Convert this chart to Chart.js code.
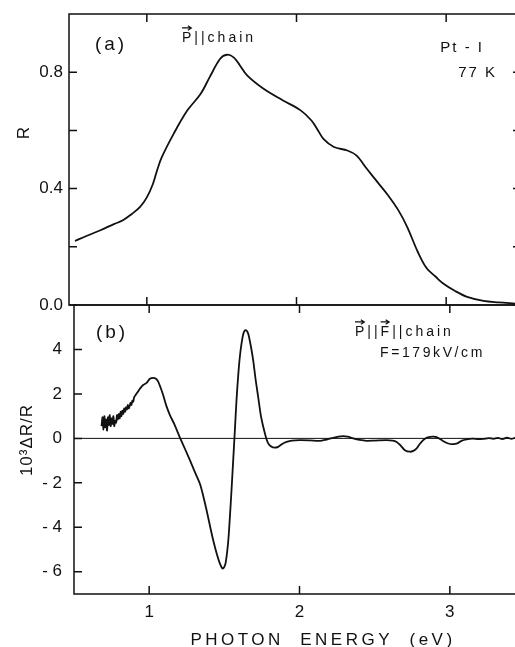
<!DOCTYPE html>
<html>
<head>
<meta charset="utf-8">
<script src="https://cdn.jsdelivr.net/npm/chart.js@4"></script>
<style>
  html, body { margin: 0; padding: 0; background: #fff; overflow: hidden; }
  #page { position: relative; width: 515px; height: 647px; overflow: hidden; }
  .panel { position: absolute; left: 0; }
  #panelA { top: 0; width: 521px; height: 320px; }
  #panelB { top: 290px; width: 525px; height: 357px; }
</style>
</head>
<body>
<div id="page">
  <div class="panel" id="panelA"><canvas id="reflChart"></canvas></div>
  <div class="panel" id="panelB"><canvas id="erChart"></canvas></div>
</div>
<script>
const INK = '#111';
const FONT = '"Liberation Sans", Arial, sans-serif';

// (a) reflectance spectrum
const energyA = [0.52, 0.60, 0.69, 0.78, 0.84, 0.90, 0.955, 1.00, 1.04, 1.07, 1.10, 1.18, 1.27,
  1.36, 1.42, 1.49, 1.535, 1.58, 1.62, 1.67, 1.78, 1.91, 2.03, 2.10, 2.14, 2.18, 2.25, 2.34,
  2.40, 2.47, 2.54, 2.61, 2.68, 2.74, 2.81, 2.87, 2.93, 2.98, 3.06, 3.14, 3.25, 3.35, 3.46];
const reflectance = [0.220, 0.238, 0.257, 0.278, 0.291, 0.313, 0.337, 0.370, 0.415, 0.465, 0.508, 0.589, 0.668,
  0.726, 0.783, 0.846, 0.860, 0.851, 0.825, 0.789, 0.743, 0.703, 0.668, 0.634, 0.603, 0.571, 0.543, 0.531,
  0.514, 0.468, 0.423, 0.378, 0.326, 0.268, 0.183, 0.126, 0.097, 0.074, 0.048, 0.028, 0.014, 0.009, 0.005];

// (b) electroreflectance spectrum, 10^3 dR/R
const energyB = [0.683, 0.690, 0.696, 0.702, 0.708, 0.714, 0.720, 0.726, 0.732, 0.738, 0.744, 0.750,
  0.756, 0.762, 0.768, 0.774, 0.780, 0.786, 0.792, 0.798, 0.804, 0.810, 0.816, 0.822, 0.828, 0.834,
  0.840, 0.846, 0.852, 0.858, 0.864, 0.870, 0.876, 0.882, 0.888, 0.894, 0.900, 0.910, 0.925, 0.940,
  0.960, 0.983, 1.005, 1.027, 1.045, 1.060, 1.075, 1.093, 1.115, 1.138, 1.170, 1.204, 1.240, 1.271,
  1.300, 1.337, 1.360, 1.382, 1.405, 1.426, 1.450, 1.470, 1.488, 1.500, 1.510, 1.525, 1.537, 1.548,
  1.559, 1.570, 1.581, 1.592, 1.603, 1.615, 1.626, 1.637, 1.648, 1.659, 1.675, 1.692, 1.708, 1.725,
  1.745, 1.770, 1.790, 1.814, 1.835, 1.858, 1.885, 1.914, 1.950, 2.003, 2.070, 2.136, 2.180, 2.225,
  2.260, 2.290, 2.320, 2.357, 2.400, 2.446, 2.500, 2.579, 2.620, 2.646, 2.670, 2.701, 2.735, 2.760,
  2.779, 2.800, 2.823, 2.845, 2.868, 2.890, 2.912, 2.940, 2.967, 2.990, 3.012, 3.035, 3.056, 3.080,
  3.112, 3.150, 3.190, 3.222, 3.260, 3.290, 3.320, 3.350, 3.380, 3.410, 3.440, 3.470, 3.500];
const deltaR = [0.55, 0.95, 0.40, 1.00, 0.50, 0.85, 0.35, 0.95, 0.60, 1.05, 0.55, 0.90,
  0.65, 1.00, 0.55, 0.80, 0.70, 1.05, 0.85, 1.10, 0.90, 1.20, 1.00, 1.25, 1.10, 1.35,
  1.20, 1.40, 1.30, 1.50, 1.35, 1.45, 1.60, 1.50, 1.70, 1.65, 1.85, 1.95, 2.10, 2.25,
  2.40, 2.50, 2.68, 2.72, 2.68, 2.55, 2.30, 1.95, 1.45, 1.05, 0.60, 0.05, -0.50, -0.98,
  -1.45, -2.03, -2.60, -3.23, -3.95, -4.58, -5.20, -5.62, -5.85, -5.78, -5.55, -4.70, -3.53, -2.30,
  -0.98, 0.35, 1.72, 2.80, 3.66, 4.30, 4.70, 4.86, 4.85, 4.71, 4.20, 3.51, 2.65, 1.87,
  0.95, 0.22, -0.20, -0.38, -0.42, -0.38, -0.25, -0.16, -0.10, -0.08, -0.09, -0.11, -0.05, 0.02,
  0.08, 0.10, 0.08, 0.00, -0.07, -0.11, -0.10, -0.08, -0.10, -0.16, -0.30, -0.53, -0.60, -0.55,
  -0.45, -0.25, -0.08, 0.03, 0.07, 0.08, 0.06, -0.05, -0.16, -0.23, -0.26, -0.25, -0.20, -0.10,
  -0.04, -0.01, -0.03, -0.02, 0.01, -0.02, 0.02, -0.03, 0.03, -0.02, 0.03, -0.01, 0.02];

const E_TICKS = [1, 2, 3];
const R_TICKS = [0, 0.2, 0.4, 0.6, 0.8];
const R_LABELS = [0, 0.4, 0.8];
const D_TICKS = [-6, -4, -2, 0, 2, 4];

function toPoints(xs, ys) {
  return xs.map((x, i) => ({ x, y: ys[i] }));
}

// fixed axis box, no extra room for overhanging labels
function fixBox(size) {
  return (s) => {
    if (s.isHorizontal()) s.height = size; else s.width = size;
    s.paddingTop = s.paddingBottom = s.paddingLeft = s.paddingRight = 0;
  };
}

function drawArrow(ctx, x0, x1, y) {
  ctx.beginPath();
  ctx.lineWidth = 1.2;
  ctx.moveTo(x0, y);
  ctx.lineTo(x1, y);
  ctx.moveTo(x1 - 3.5, y - 2.2);
  ctx.lineTo(x1, y);
  ctx.lineTo(x1 - 3.5, y + 2.2);
  ctx.stroke();
}

// box around the plot area with short inward tick marks
const frame = {
  id: 'frame',
  afterDatasetsDraw(chart, args, opts) {
    const { ctx, chartArea: a, scales: { x, y } } = chart;
    const len = opts.len || 8;
    ctx.save();
    ctx.strokeStyle = INK;
    ctx.lineWidth = 1.5;
    ctx.strokeRect(a.left, a.top, a.right - a.left, a.bottom - a.top);
    ctx.beginPath();
    for (const v of opts.xTicks) {
      const px = x.getPixelForValue(v);
      ctx.moveTo(px, a.top);
      ctx.lineTo(px, a.top + len);
      ctx.moveTo(px, a.bottom);
      ctx.lineTo(px, a.bottom - len);
    }
    for (const v of opts.yTicks) {
      const py = y.getPixelForValue(v);
      ctx.moveTo(a.left, py);
      ctx.lineTo(a.left + len, py);
      ctx.moveTo(a.right, py);
      ctx.lineTo(a.right - len, py);
    }
    ctx.stroke();
    if (opts.zeroLine) {
      const py = y.getPixelForValue(0);
      ctx.beginPath();
      ctx.lineWidth = 1;
      ctx.moveTo(a.left, py);
      ctx.lineTo(a.right, py);
      ctx.stroke();
    }
    ctx.restore();
  }
};

// free text: panel letters, sample notes, axis titles
const notes = {
  id: 'notes',
  afterDraw(chart, args, opts) {
    const ctx = chart.ctx;
    for (const n of opts.items || []) {
      ctx.save();
      ctx.font = `${n.size}px ${FONT}`;
      ctx.fillStyle = INK;
      ctx.strokeStyle = INK;
      ctx.textBaseline = 'middle';
      ctx.letterSpacing = (n.spacing || 0) + 'px';
      if (n.rotate) {
        ctx.translate(n.x, n.y);
        ctx.rotate(-Math.PI / 2);
        ctx.textAlign = 'center';
        ctx.fillText(n.text, 0, 0);
      } else {
        const parts = n.parts || [[n.text, false]];
        const total = parts.reduce((w, p) => w + ctx.measureText(p[0]).width, 0);
        let cx = n.align === 'right' ? n.x - total : n.align === 'center' ? n.x - total / 2 : n.x;
        ctx.textAlign = 'left';
        for (const [t, vec] of parts) {
          const w = ctx.measureText(t).width;
          ctx.fillText(t, cx, n.y);
          if (vec) drawArrow(ctx, cx, cx + w - (n.spacing || 0), n.y - n.size * 0.36 - 5);
          cx += w;
        }
      }
      ctx.restore();
    }
  }
};

const tickFont = { family: FONT, size: 17 };
const lineStyle = {
  borderColor: INK,
  borderWidth: 1.8,
  pointRadius: 0,
  tension: 0.35,
  fill: false,
};

new Chart(document.getElementById('reflChart'), {
  type: 'line',
  data: {
    datasets: [{ label: 'R', data: toPoints(energyA, reflectance), ...lineStyle }],
  },
  options: {
    responsive: true,
    maintainAspectRatio: false,
    animation: false,
    layout: { padding: { top: 14, bottom: 15, left: 0, right: 0 } },
    plugins: {
      legend: { display: false },
      tooltip: { enabled: false },
      frame: { xTicks: E_TICKS, yTicks: R_TICKS, len: 8 },
      notes: {
        items: [
          { text: '(a)', x: 111, y: 45, size: 19, spacing: 3, align: 'center' },
          { parts: [['P', true], ['||chain', false]], x: 182, y: 38, size: 14, spacing: 3 },
          { text: 'Pt - I', x: 484, y: 48, size: 15, spacing: 2, align: 'right' },
          { text: '77 K', x: 497, y: 73, size: 15, spacing: 2, align: 'right' },
          { text: 'R', x: 24, y: 133, size: 17, rotate: true },
        ],
      },
    },
    scales: {
      x: { type: 'linear', display: false, min: 0.48, max: 3.5 },
      y: {
        min: 0,
        max: 1.0,
        afterFit: fixBox(69),
        afterBuildTicks: (s) => { s.ticks = R_TICKS.map((v) => ({ value: v })); },
        grid: { display: false, drawTicks: false },
        border: { display: false },
        ticks: {
          padding: 6,
          color: INK,
          font: tickFont,
          callback: (v) => (R_LABELS.includes(v) ? v.toFixed(1) : ''),
        },
      },
    },
  },
  plugins: [frame, notes],
});

new Chart(document.getElementById('erChart'), {
  type: 'line',
  data: {
    datasets: [{ label: '10³ΔR/R', data: toPoints(energyB, deltaR), ...lineStyle, tension: 0.3 }],
  },
  options: {
    responsive: true,
    maintainAspectRatio: false,
    animation: false,
    layout: { padding: { top: 15, bottom: 0, left: 0, right: 0 } },
    plugins: {
      legend: { display: false },
      tooltip: { enabled: false },
      frame: { xTicks: E_TICKS, yTicks: D_TICKS, len: 8, zeroLine: true },
      notes: {
        items: [
          { text: '(b)', x: 112, y: 43, size: 19, spacing: 3, align: 'center' },
          { parts: [['P', true], ['||', false], ['F', true], ['||chain', false]], x: 355, y: 42, size: 14, spacing: 3 },
          { text: 'F=179kV/cm', x: 380, y: 63, size: 14, spacing: 2.6 },
          { text: '10³ΔR/R', x: 27, y: 150, size: 17, spacing: 1, rotate: true },
          { text: 'PHOTON  ENERGY  (eV)', x: 323, y: 350, size: 17, spacing: 3.5, align: 'center' },
        ],
      },
    },
    scales: {
      x: {
        type: 'linear',
        min: 0.5,
        max: 3.5,
        afterFit: fixBox(53),
        afterBuildTicks: (s) => { s.ticks = E_TICKS.map((v) => ({ value: v })); },
        grid: { display: false, drawTicks: false },
        border: { display: false },
        ticks: { padding: 8, color: INK, font: tickFont, maxRotation: 0, callback: (v) => String(v) },
      },
      y: {
        min: -7,
        max: 6,
        afterFit: fixBox(74),
        afterBuildTicks: (s) => { s.ticks = D_TICKS.map((v) => ({ value: v })); },
        grid: { display: false, drawTicks: false },
        border: { display: false },
        ticks: {
          padding: 12,
          color: INK,
          font: tickFont,
          callback: (v) => (v < 0 ? '- ' + Math.abs(v) : String(v)),
        },
      },
    },
  },
  plugins: [frame, notes],
});
</script>
</body>
</html>
